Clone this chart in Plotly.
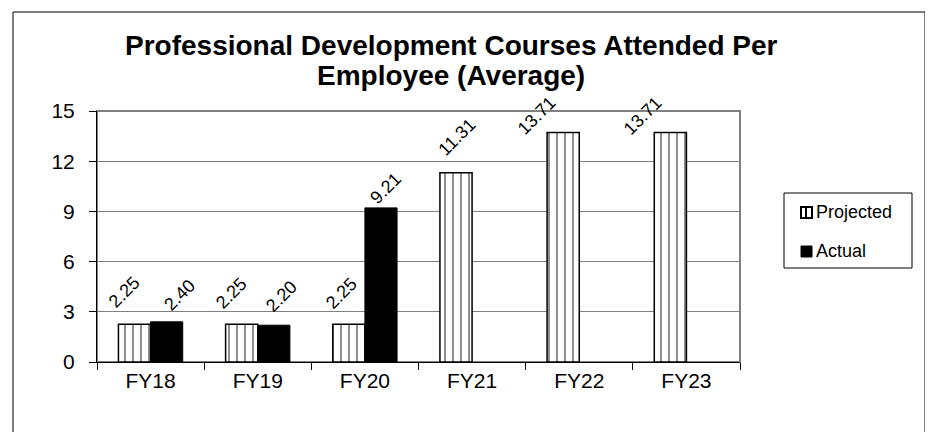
import plotly.graph_objects as go

categories = ["FY18", "FY19", "FY20", "FY21", "FY22", "FY23"]
projected = [2.25, 2.25, 2.25, 11.31, 13.71, 13.71]
actual = [2.40, 2.20, 9.21, None, None, None]
y_ticks = [0, 3, 6, 9, 12, 15]
title_lines = ["Professional Development Courses Attended Per", "Employee (Average)"]
series_names = ["Projected", "Actual"]

# label nudges in pixels (dx, dy above bar top), as placed in the original chart
proj_label_nudge = [(-10, 32), (-10, 31), (-7, 31), (1, 36), (-27, 17), (-28, 17)]
act_label_nudge = [(13, 27), (8, 29), (5, 20), None, None, None]

FONT = "Arial, Liberation Sans, sans-serif"

W, H = 933, 432
OFF = 8  # page offset of the plot inside the browser window
L, R, T, B = 97 - OFF, 740 - OFF, 111 - OFF, 362 - OFF
BAR_GAP = 0.4
CAT_W = (R - L) / len(categories)
BAR_W = CAT_W * (1 - BAR_GAP) / 2


def fx(px):
    return (px - OFF - L) / (R - L)


def fy(py):
    return (B - (py - OFF)) / (B - T)


fig = go.Figure()
fig.add_trace(go.Bar(
    name=series_names[0], x=categories, y=projected, showlegend=False,
    marker=dict(color="white", line=dict(color="black", width=1.5),
                pattern=dict(shape="|", fgcolor="black", bgcolor="white", size=8, solidity=0.22)),
))
fig.add_trace(go.Bar(
    name=series_names[1], x=categories, y=actual, showlegend=False,
    marker=dict(color="black", line=dict(color="black", width=1)),
))

# data labels, rotated, anchored to each bar's top
label_ann = []
for series, nudges, side in ((projected, proj_label_nudge, -1), (actual, act_label_nudge, 1)):
    for cat, val, nd in zip(categories, series, nudges):
        if val is None:
            continue
        label_ann.append(dict(
            text=f"{val:.2f}", x=cat, y=val, xref="x", yref="y", showarrow=False,
            textangle=-45, xanchor="center", yanchor="middle",
            xshift=side * BAR_W / 2 + nd[0], yshift=nd[1],
            font=dict(family=FONT, size=18, color="black"),
        ))

# legend (drawn as box + symbols + labels)
leg_shapes = [
    dict(type="rect", xref="paper", yref="paper", x0=fx(784), x1=fx(912), y0=fy(268), y1=fy(193),
         line=dict(color="black", width=1), fillcolor="white", layer="above"),
    dict(type="rect", xref="paper", yref="paper", x0=fx(801), x1=fx(812), y0=fy(218), y1=fy(207),
         line=dict(color="black", width=2), fillcolor="white", layer="above"),
    dict(type="line", xref="paper", yref="paper", x0=fx(806), x1=fx(806), y0=fy(218), y1=fy(207),
         line=dict(color="black", width=2), layer="above"),
    dict(type="rect", xref="paper", yref="paper", x0=fx(801), x1=fx(812), y0=fy(257), y1=fy(246),
         line=dict(color="black", width=1), fillcolor="black", layer="above"),
]
leg_ann = [
    dict(text=series_names[0], xref="paper", yref="paper", x=fx(814), y=fy(212),
         xanchor="left", yanchor="middle", showarrow=False,
         font=dict(family=FONT, size=18, color="black")),
    dict(text=series_names[1], xref="paper", yref="paper", x=fx(814), y=fy(251),
         xanchor="left", yanchor="middle", showarrow=False,
         font=dict(family=FONT, size=18, color="black")),
]

fig.update_layout(
    width=W, height=H,
    margin=dict(l=L, r=W - R, t=T, b=H - B),
    paper_bgcolor="white", plot_bgcolor="white",
    barmode="group", bargap=BAR_GAP, bargroupgap=0,
    font=dict(family=FONT, color="black"),
    showlegend=False,
    annotations=[
        dict(text="<b>" + title_lines[0] + "</b>", xref="paper", yref="paper",
             x=fx(451), y=fy(45), xanchor="center", yanchor="middle", showarrow=False,
             font=dict(family=FONT, size=28, color="black")),
        dict(text="<b>" + title_lines[1] + "</b>", xref="paper", yref="paper",
             x=fx(451), y=fy(76), xanchor="center", yanchor="middle", showarrow=False,
             font=dict(family=FONT, size=28, color="black")),
    ] + label_ann + leg_ann,
    xaxis=dict(showline=True, linecolor="black", linewidth=1, ticks="outside", tickson="boundaries",
               ticklen=7, tickcolor="black", tickfont=dict(family=FONT, size=21, color="black"),
               showgrid=False),
    yaxis=dict(range=[0, 15], tickvals=y_ticks, showline=True, linecolor="black", linewidth=1,
               ticks="outside", ticklen=7, tickcolor="black", ticklabelstandoff=10,
               tickfont=dict(family=FONT, size=21, color="black"),
               showgrid=True, gridcolor="#808080", gridwidth=1, zeroline=False),
    shapes=[
        dict(type="rect", xref="paper", yref="paper", x0=0, x1=1, y0=0, y1=1,
             line=dict(color="#808080", width=2), layer="below"),
        dict(type="rect", xref="paper", yref="paper",
             x0=fx(13), x1=fx(925), y0=fy(450), y1=fy(12),
             line=dict(color="black", width=1), layer="below"),
    ] + leg_shapes,
)

fig.write_html("out.html")
